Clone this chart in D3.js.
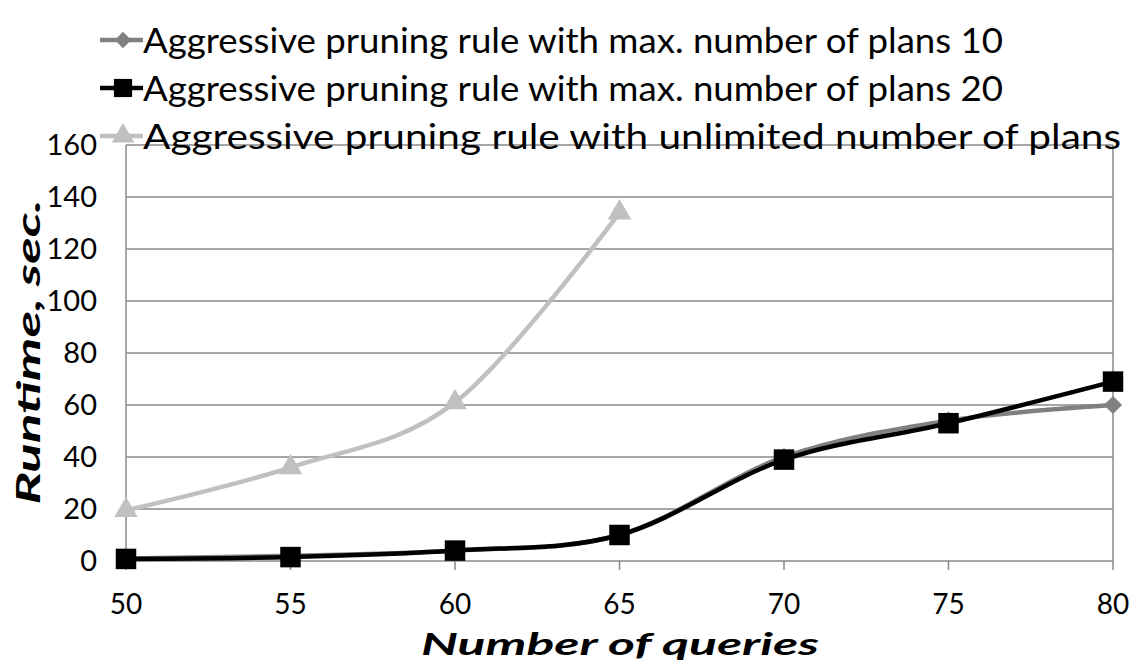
<!DOCTYPE html>
<html><head><meta charset="utf-8">
<script src="https://cdn.jsdelivr.net/npm/d3@7"></script>
<style>body{margin:0;background:#fff}svg{display:block}text{font-family:Lato,"Open Sans",sans-serif}</style>
</head><body><svg id="c" width="1137" height="665"></svg>
<script>
const queries = [50, 55, 60, 65, 70, 75, 80];
const max10 = [1, 2, 4, 10, 40, 54, 60];
const max20 = [0.8, 1.5, 4, 10, 39, 53, 69];
const unlimited = [19.5, 36, 61, 134];
const yTicks = [0, 20, 40, 60, 80, 100, 120, 140, 160];
const seriesNames = [
  "Aggressive pruning rule with max. number of plans 10",
  "Aggressive pruning rule with max. number of plans 20",
  "Aggressive pruning rule with unlimited number of plans"
];
const seriesColors = ["#808080", "#000000", "#c0c0c0"];
const seriesSymbols = [d3.symbolDiamond2, d3.symbolSquare, d3.symbolTriangle];

const svg = d3.select("#c");
const L = 126, R = 1113, T = 145, B = 561;
const x = d3.scalePoint().domain(queries).range([L, R]);
const y = d3.scaleLinear().domain([0, 160]).range([B, T]);

svg.append("g").selectAll("line").data(yTicks).join("line")
  .attr("x1", L).attr("x2", R).attr("y1", d => y(d)).attr("y2", d => y(d))
  .attr("stroke", "#888").attr("stroke-width", 1.5);
svg.append("line").attr("x1", R).attr("x2", R).attr("y1", T).attr("y2", B).attr("stroke", "#888").attr("stroke-width", 1.5);
svg.append("line").attr("x1", L).attr("x2", L).attr("y1", T).attr("y2", B).attr("stroke", "#888").attr("stroke-width", 1.5);
svg.append("g").selectAll("line").data(queries).join("line")
  .attr("x1", d => x(d)).attr("x2", d => x(d)).attr("y1", B).attr("y2", B + 9)
  .attr("stroke", "#888").attr("stroke-width", 1.5);
svg.append("g").selectAll("text").data(yTicks).join("text")
  .attr("x", 97).attr("y", d => y(d)).attr("dy", "0.36em").attr("text-anchor", "end")
  .attr("font-size", 29).attr("fill", "#000").text(d => d);
svg.append("g").selectAll("text").data(queries).join("text")
  .attr("x", d => x(d)).attr("y", 614).attr("text-anchor", "middle")
  .attr("font-size", 28).attr("fill", "#000").text(d => d);
svg.append("text").attr("x", 620).attr("y", 655).attr("text-anchor", "middle")
  .attr("font-size", 31).attr("font-weight", "bold").attr("font-style", "italic")
  .attr("textLength", 398).attr("lengthAdjust", "spacingAndGlyphs").text("Number of queries");
svg.append("text").attr("transform", "translate(40,352) rotate(-90)").attr("text-anchor", "middle")
  .attr("font-size", 33).attr("font-weight", "bold").attr("font-style", "italic")
  .attr("textLength", 305).attr("lengthAdjust", "spacingAndGlyphs").text("Runtime, sec.");

const line = d3.line().x((d, i) => x(queries[i])).y(d => y(d)).curve(d3.curveCardinal.tension(0));
const data = [max10, max20, unlimited];
const sizes = [210, 420, 240];
[2, 0, 1].forEach(k => {
  svg.append("path").attr("d", line(data[k])).attr("fill", "none")
    .attr("stroke", seriesColors[k]).attr("stroke-width", 4.5);
  svg.append("g").selectAll("path").data(data[k]).join("path")
    .attr("transform", (d, i) => `translate(${x(queries[i])},${y(d)})`)
    .attr("d", d3.symbol().type(seriesSymbols[k]).size(sizes[k]))
    .attr("fill", seriesColors[k]);
});

const legY = [40, 88, 136];
const legLen = [860, 860, 978];
const legSizes = [170, 330, 220];
seriesNames.forEach((name, k) => {
  const g = svg.append("g").attr("transform", `translate(0,${legY[k]})`);
  g.append("line").attr("x1", 100).attr("x2", 143).attr("y1", 0).attr("y2", 0)
    .attr("stroke", seriesColors[k]).attr("stroke-width", 4.5);
  g.append("path").attr("transform", "translate(123,0)")
    .attr("d", d3.symbol().type(seriesSymbols[k]).size(legSizes[k]))
    .attr("fill", seriesColors[k]);
  g.append("text").attr("x", 143).attr("y", 0).attr("dy", "0.36em")
    .attr("font-size", 35).attr("fill", "#000")
    .attr("textLength", legLen[k]).attr("lengthAdjust", "spacingAndGlyphs").text(name);
});
</script></body></html>
